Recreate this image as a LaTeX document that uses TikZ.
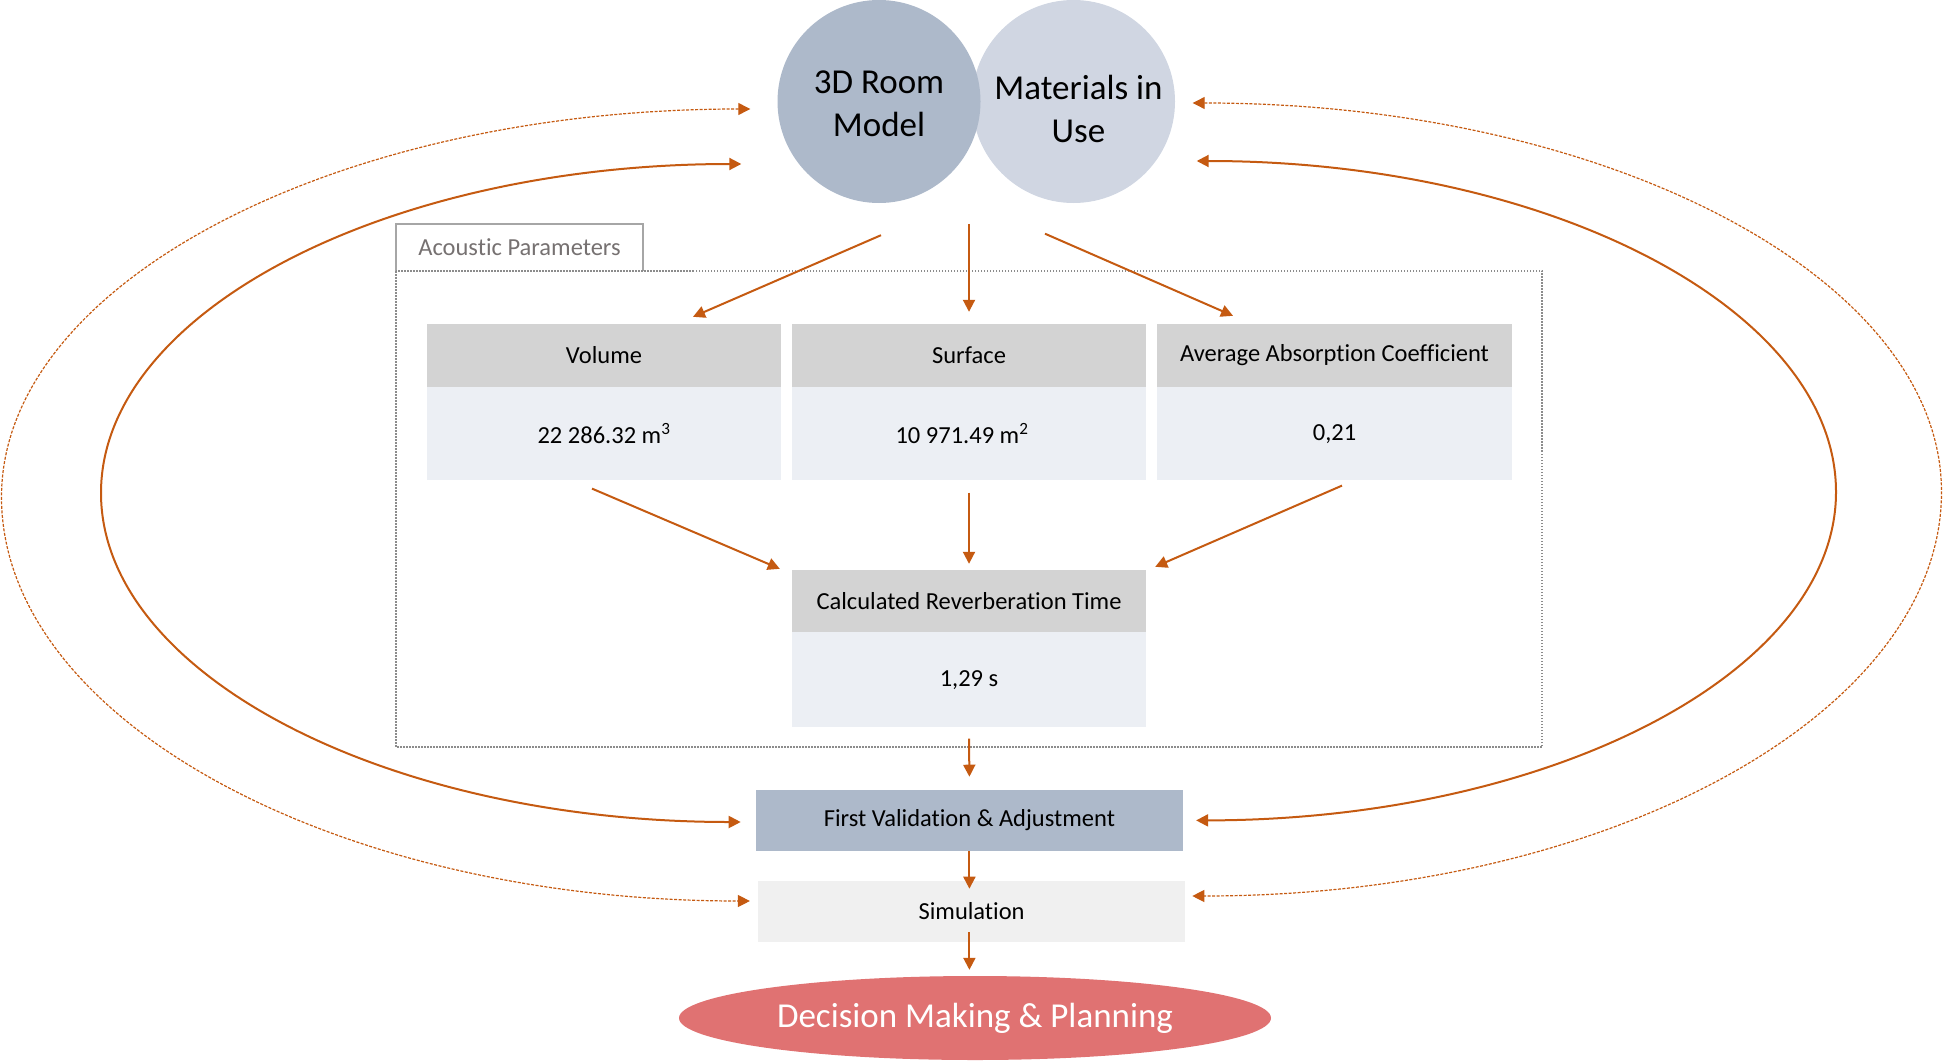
\documentclass[tikz,border=0pt]{standalone}
\usepackage{fontspec}
\setmainfont{Carlito}[RawFeature=-liga,RawFeature=-clig,RawFeature=-calt,RawFeature=-dlig]
\usetikzlibrary{arrows.meta,positioning,calc,shapes.geometric}
\definecolor{arrowc}{HTML}{C55A11}
\definecolor{roomc}{HTML}{ADB9CA}
\definecolor{matc}{HTML}{D0D6E2}
\definecolor{headc}{HTML}{D3D3D3}
\definecolor{valc}{HTML}{ECEFF4}
\definecolor{simc}{HTML}{F0F0F0}
\definecolor{dmc}{HTML}{E07272}
\definecolor{framec}{HTML}{8C8C8C}
\definecolor{tabc}{HTML}{A6A6A6}
\definecolor{tabtext}{HTML}{767171}
\tikzset{
  tip/.style={-{Triangle[length=12pt,width=12pt]}},
  arr/.style={draw=arrowc,line width=2pt,tip},
  loopsolid/.style={draw=arrowc,line width=2pt,{Triangle[length=12pt,width=12pt]}-{Triangle[length=12pt,width=12pt]}},
  loopdash/.style={draw=arrowc,line width=1.2pt,dash pattern=on 3pt off 1.5pt,{Triangle[length=12pt,width=12pt]}-{Triangle[length=12pt,width=12pt]}},
  circ/.style={circle,minimum size=203pt,inner sep=0pt},
  circtext/.style={align=center,inner sep=0pt,font=\fontsize{35}{43}\selectfont},
  head/.style={fill=headc,minimum width=354pt,minimum height=63pt,inner sep=0pt,font=\fontsize{24.5}{29}\selectfont},
  val/.style={fill=valc,minimum width=354pt,minimum height=93pt,inner sep=0pt,font=\fontsize{24.5}{29}\selectfont},
  bar/.style={minimum width=427pt,minimum height=61pt,inner sep=0pt,font=\fontsize{24.5}{29}\selectfont},
}
\begin{document}
\begin{tikzpicture}[x=1pt,y=-1pt]
  \useasboundingbox (0,0) rectangle (1943,1060);
  % inputs
  \node[circ,fill=matc,label={[circtext,shift={(5,7.5)}]center:Materials in\\Use}] (cmat) at (1073.5,101.5) {};
  \node[circ,fill=roomc,label={[circtext,shift={(0,2.5)}]center:3D Room\\Model}] (c3d) at (879,101.5) {};
  % acoustic parameters
  \node[minimum width=247pt,minimum height=47pt,inner sep=0pt,text=tabtext,
    font=\fontsize{24.5}{29}\selectfont] (ap) at (519.5,247.5) {Acoustic Parameters};
  \draw[tabc,line width=1.5pt] (ap.south west) |- (ap.north east) -- (ap.south east);
  \draw[framec,line width=1.5pt,dash pattern=on 1.5pt off 1.5pt] (396,271) rectangle (1542,747);
  \node[head] (vol) at (604,355.5) {Volume};
  \node[val,below=0pt of vol] (volv) {22 286.32 m\textsuperscript{3}};
  \node[head] (surf) at (969,355.5) {Surface};
  \node[val,below=0pt of surf] (surfv) {\hspace*{-14pt}10 971.49 m\textsuperscript{2}};
  \node[head,minimum width=355pt] (avg) at (1334.5,355.5) {Average Absorption Coefficient};
  \node[val,minimum width=355pt,below=0pt of avg] (avgv) {0,21};
  \node[head,minimum height=62pt] (rt) at (969,601) {Calculated Reverberation Time};
  \node[val,minimum height=95pt,below=0pt of rt] (rtv) {1,29 s};
  % outputs
  \node[bar,fill=roomc] (fv) at (969.4,820.4) {First Validation \& Adjustment};
  \node[bar,fill=simc] (sim) at (971.6,911.4) {Simulation};
  \node[ellipse,fill=dmc,minimum width=592pt,minimum height=84pt,inner sep=0pt,
    text=white,font=\fontsize{35}{40}\selectfont] (dm) at (975,1018) {Decision Making \& Planning};
  % straight arrows
  \draw[arr] ([shift={(2,32)}]c3d.south) -- ([shift={(89,-7)}]vol.north);
  \draw[arr] ([shift={(0,-100)}]surf.north) -- ([shift={(0,-12)}]surf.north);
  \draw[arr] ([shift={(-28.5,30.5)}]cmat.south) -- ([shift={(-101.5,-8)}]avg.north);
  \draw[arr] ([shift={(-12,8)}]volv.south) -- ([shift={(-12,-1)}]rt.north west);
  \draw[arr] ([shift={(0,12)}]surfv.south) -- ([shift={(0,-6)}]rt.north);
  \draw[arr] ([shift={(7.5,5)}]avgv.south) -- ([shift={(9,-3)}]rt.north east);
  \draw[arr] ([shift={(0,11)}]rtv.south) -- ([shift={(0,-13)}]fv.north);
  \draw[arr] (fv.south) -- ($(fv.south |- sim.north)+(0,8)$);
  \draw[arr] ($(fv.south |- sim.south)+(0,-10)$) -- ($(fv.south |- dm.north)+(0,-6)$);
  % feedback loops
  \draw[loopsolid] ([shift={(-36,62.5)}]c3d.west) .. controls (387.5,164) and (101,311.3) .. (101,493)
    .. controls (101,674.7) and (387.5,822) .. ([shift={(-15,1.6)}]fv.west);
  \draw[loopdash] ([shift={(-27,7.5)}]c3d.west) .. controls (336.3,109) and (1.5,282.7) .. (1.5,497)
    .. controls (1.5,720.1) and (336.3,901) .. ([shift={(-8,-10.4)}]sim.west);
  \draw[loopsolid] ([shift={(21.5,59.5)}]cmat.east) .. controls (1549.5,161) and (1836,309.2) .. (1836,492)
    .. controls (1836,673.2) and (1549.5,820) .. ([shift={(13,0)}]fv.east);
  \draw[loopdash] ([shift={(17.5,1.5)}]cmat.east) .. controls (1606,103) and (1941.5,277.2) .. (1941.5,492)
    .. controls (1941.5,715) and (1606,896) .. ([shift={(7,-15.4)}]sim.east);
\end{tikzpicture}
\end{document}
